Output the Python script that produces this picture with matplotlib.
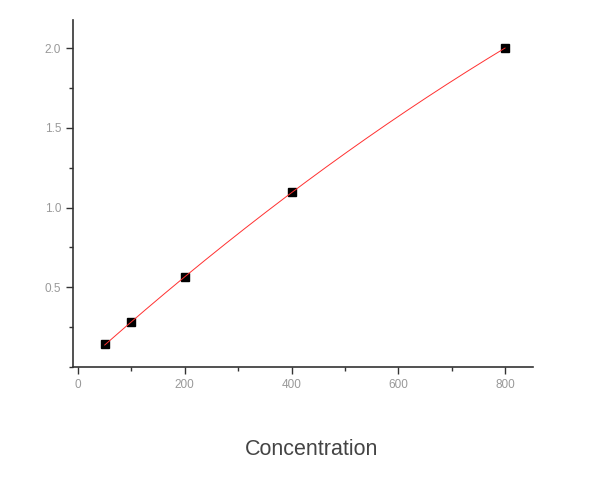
import numpy as np
import matplotlib
matplotlib.use("Agg")
import matplotlib.pyplot as plt
from matplotlib.ticker import MultipleLocator

plt.rcParams['font.family'] = ['Liberation Sans', 'DejaVu Sans']

conc = [50, 100, 200, 400, 800]
od = [0.142, 0.28, 0.563, 1.096, 2.0]

# smooth fitted curve through the standards
coef = np.polyfit(conc, od, 2)
xs = np.linspace(conc[0], conc[-1], 200)
ys = np.polyval(coef, xs)

fig = plt.figure(figsize=(6, 5.01), dpi=100)
ax = fig.add_axes([0.1217, 0.2675, 0.7663, 0.6925])

ax.plot(conc, od, 's', color='black', markersize=6, zorder=2)
ax.plot(xs, ys, '-', color='#ff3030', linewidth=0.7, zorder=3)

ax.set_xlim(-9.4, 852)
ax.set_ylim(0, 2.176)
ax.xaxis.set_major_locator(MultipleLocator(200))
ax.xaxis.set_minor_locator(MultipleLocator(100))
ax.set_yticks([0.5, 1.0, 1.5, 2.0])
ax.yaxis.set_minor_locator(MultipleLocator(0.25))

for s in ['top', 'right']:
    ax.spines[s].set_visible(False)
for s in ['left', 'bottom']:
    ax.spines[s].set_color('#333333')
    ax.spines[s].set_linewidth(1.2)

ax.tick_params(which='major', direction='out', length=5, width=1, color='#333333',
               labelsize=8.5, labelcolor='#999999')
ax.tick_params(which='minor', direction='out', length=3, width=1, color='#333333')

fig.text(0.519, 0.103, 'Concentration', ha='center', va='center', fontsize=15.5, color='#444444')

plt.savefig('out.png', dpi=100)
